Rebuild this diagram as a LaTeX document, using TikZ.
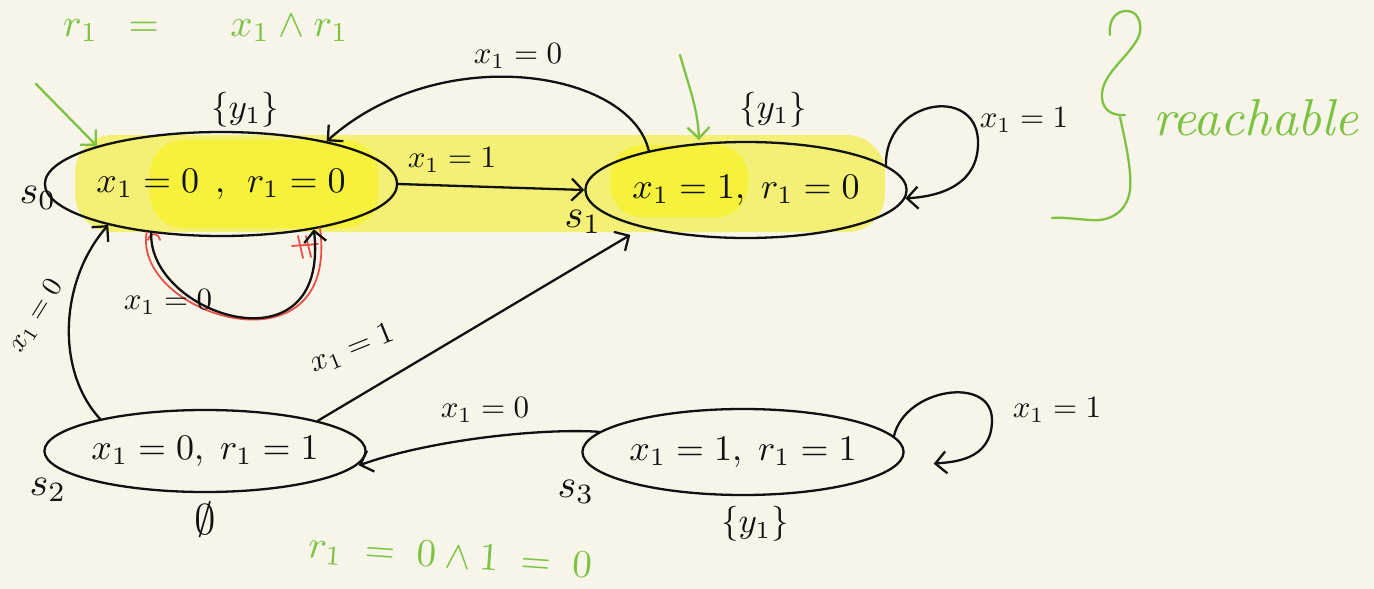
\documentclass[tikz,border=0pt]{standalone}
\usepackage{graphicx}
\usetikzlibrary{shapes.geometric,arrows.meta}
\definecolor{paper}{RGB}{247,245,234}
\definecolor{hlA}{RGB}{244,240,118}
\definecolor{hlB}{RGB}{246,241,58}
\definecolor{pen}{RGB}{17,17,17}
\definecolor{grn}{RGB}{125,194,66}
\definecolor{redpen}{RGB}{232,80,74}
\newcommand\stx[1]{\scalebox{3.6}{#1}}
\newcommand\lbx[1]{\scalebox{3.1}{#1}}
\newcommand\nmx[1]{\scalebox{4.0}{#1}}
\newcommand\gnx[1]{\scalebox{3.9}{#1}}
\tikzset{
 state/.style={ellipse,draw=pen,line width=2.3pt,inner sep=0pt,text=pen},
 lbl/.style={text=pen,inner sep=1pt},
 glbl/.style={text=grn,inner sep=1pt},
 conn/.style={draw=pen,line width=2.3pt,line cap=round,-{Straight Barb[length=11pt,width=22pt]}},
 gconn/.style={draw=grn,line width=2.3pt,line cap=round,-{Straight Barb[length=11pt,width=22pt]}},
 hand/.style={draw=grn,line width=2.3pt,line cap=round},
 redloop/.style={draw=redpen,line width=1.8pt,line cap=round},
}
\begin{document}
\begin{tikzpicture}[x=1pt,y=-1pt]
\useasboundingbox (0,0) rectangle (1374,589);
\clip (0,0) rectangle (1374,589);
\fill[paper] (0,0) rectangle (1374,589);
% highlighter
\fill[hlA,rounded corners=38pt] (75,135) rectangle (885,232);
\fill[hlB,rounded corners=34pt] (150,140) rectangle (378,228);
\fill[hlB,rounded corners=32pt] (610,145) rectangle (748,217);
% states
\node[state,minimum width=296pt,minimum height=104pt] (s0) at (221,184) {\stx{$x_1=0\;\,,\;\,r_1=0$}};
\node[state,minimum width=278pt,minimum height=96pt] (s1) at (746,190) {\stx{$x_1=1,\;r_1=0$}};
\node[state,minimum width=280pt,minimum height=82pt] (s2) at (205,451) {\stx{$x_1=0,\;r_1=1$}};
\node[state,minimum width=296pt,minimum height=86pt] (s3) at (743,452) {\stx{$x_1=1,\;r_1=1$}};
% state names and outputs
\node[lbl] (n0) at (38,198) {\nmx{$s_0$}};
\node[lbl] (n1) at (583,222) {\nmx{$s_1$}};
\node[lbl] (n2) at (48,490) {\nmx{$s_2$}};
\node[lbl] (n3) at (576,492) {\nmx{$s_3$}};
\node[lbl] (o0) at (245,110) {\scalebox{3.5}{$\{y_1\}$}};
\node[lbl] (o1) at (773,110) {\scalebox{3.5}{$\{y_1\}$}};
\node[lbl] (o3) at (755,524) {\scalebox{3.5}{$\{y_1\}$}};
\node[lbl] (o2) at (205,520) {\scalebox{4.3}{$\emptyset$}};
% connectors
\draw[conn] (s0.east) -- (s1.west);
\draw[conn] (s1.158) .. controls (630,70) and (440,40) .. (s0.22);
\draw[redloop] (s0.213) .. controls (132,315) and (340,380) .. (s0.336);
\draw[redloop] (292,246) -- (318,244) (298,236) -- (303,258) (306,236) -- (311,257);
\draw[redloop] (148,240) .. controls (150,232) and (158,232) .. (160,240);
\draw[conn] (s0.215) .. controls (148,315) and (330,375) .. (s0.334);
\draw[conn] (s1.10) .. controls (885,100) and (975,85) .. (978,140) .. controls (980,190) and (930,197) .. (s1.-3);
\draw[conn] (s2.163) .. controls (55,370) and (60,280) .. (s0.200);
\draw[conn,shorten >=14pt] (s2.15) -- (s1.200);
\draw[conn,shorten >=4pt] (s3.172) .. controls (540,428) and (430,440) .. (s2.-6);
\draw[conn,shorten >=40pt] (s3.6) .. controls (905,388) and (992,375) .. (992,420) .. controls (992,462) and (950,462) .. (s3.-6);
% edge labels
\node[lbl] (e1) at (452,160) {\lbx{$x_1=1$}};
\node[lbl] (e2) at (518,56) {\lbx{$x_1=0$}};
\node[lbl] (e3) at (1024,120) {\lbx{$x_1=1$}};
\node[lbl] (e4) at (168,302) {\lbx{$x_1=0$}};
\node[lbl,rotate=58] (e5) at (36,316) {\scalebox{2.8}{$x_1=0$}};
\node[lbl,rotate=22] (e6) at (352,349) {\lbx{$x_1=1$}};
\node[lbl] (e7) at (485,410) {\lbx{$x_1=0$}};
\node[lbl] (e8) at (1057,410) {\lbx{$x_1=1$}};
% initial arrows
\coordinate (i0) at (36,84);
\draw[gconn] (i0) -- (s0.163);
\coordinate (i1) at (680,55);
\draw[gconn,shorten >=3pt] (i1) .. controls (690,90) and (698,110) .. (s1.135);
% green notes
\node[glbl,anchor=base west] (t0) at (62,36) {\gnx{$r_1\enspace=\quad\;\; x_1\wedge r_1$}};
\node[glbl,rotate=-4] (t1) at (450,558) {\gnx{$r_1\;=\;0\wedge 1\;=\;0$}};
\draw[hand] (1110,35) .. controls (1108,18) and (1118,10) .. (1128,11) .. controls (1140,12) and (1143,28) .. (1138,38) .. controls (1128,58) and (1100,75) .. (1102,98) .. controls (1103,110) and (1112,116) .. (1125,115);
\draw[hand] (1120,117) .. controls (1125,140) and (1132,170) .. (1130,190) .. controls (1127,212) and (1110,222) .. (1090,220) .. controls (1075,219) and (1062,217) .. (1052,218);
\node[text=grn,inner sep=0pt,anchor=base] (reach) at (1256,135) {\scalebox{5.2}{\itshape reachable}};
\end{tikzpicture}
\end{document}
